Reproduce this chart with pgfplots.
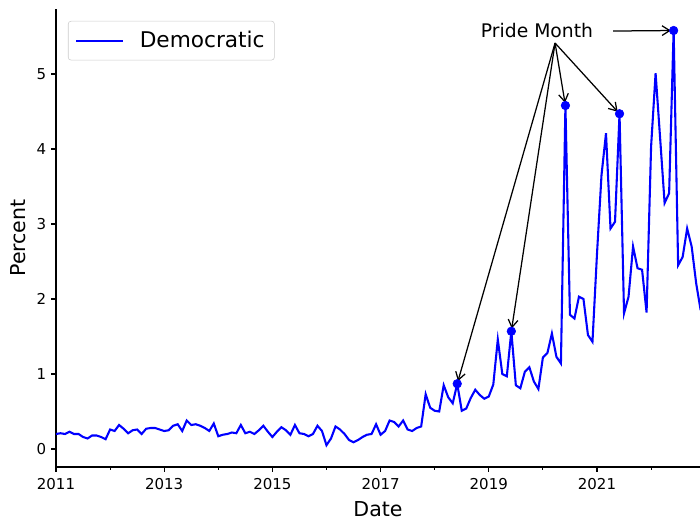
\documentclass[border=0pt]{standalone}
\usepackage{fontspec}
\setmainfont{DejaVu Sans}
\usepackage{pgfplots}
\pgfplotsset{compat=1.18}
\usetikzlibrary{arrows.meta}
\definecolor{mplblue}{RGB}{0,0,255}
\definecolor{legframe}{RGB}{204,204,204}

\begin{document}
\begin{tikzpicture}
\path[use as bounding box] (-40.32pt,-38.16pt) rectangle (463.68pt,336.24pt);
\begin{axis}[
  scale only axis, width=463.68pt, height=329.76pt,
  at={(0pt,0pt)}, anchor=south west,
  xmin=0, xmax=142.85, ymin=-0.24, ymax=5.867,
  axis x line*=bottom, axis y line*=left,
  axis line style={line width=0.8pt, black},
  tick align=outside,
  major tick length=3.5pt, minor tick length=2pt,
  every tick/.style={black, line width=0.8pt},
  xtick={0,24,48,72,96,120},
  xticklabels={2011,2013,2015,2017,2019,2021},
  minor xtick={12,36,60,84,108,132},
  ytick={0,1,2,3,4,5},
  /pgf/number format/assume math mode=true,
  ticklabel style={font=\fontsize{10.8}{13}\selectfont, inner sep=0pt},
  xticklabel style={yshift=-4.5pt},
  yticklabel style={xshift=-3.4pt},
  xlabel={Date}, ylabel={Percent},
  label style={font=\fontsize{14.8}{17}\selectfont, inner sep=0pt},
  xlabel style={at={(axis description cs:0.5,-0.10705)}, anchor=base},
  ylabel style={at={(axis description cs:-0.0481,0.5)}, rotate=0, anchor=base},
  legend style={at={(axis description cs:0.01855,0.9739)}, anchor=north west,
    draw=legframe, rounded corners=2pt, fill=white,
    inner xsep=5pt, inner ysep=5.3pt,
    font=\fontsize{15.6}{18}\selectfont, cells={anchor=west}},
  legend image code/.code={\draw[#1, line width=1.5pt] (-1.5pt,0pt) -- (32.5pt,0pt); \path (41.5pt,0pt);},
]
\addplot[mplblue, line width=1.5pt, no marks] table {
m v
0 0.20
1 0.21
2 0.20
3 0.23
4 0.20
5 0.20
6 0.16
7 0.14
8 0.18
9 0.18
10 0.16
11 0.13
12 0.26
13 0.24
14 0.32
15 0.27
16 0.21
17 0.25
18 0.26
19 0.20
20 0.27
21 0.28
22 0.28
23 0.26
24 0.24
25 0.25
26 0.31
27 0.33
28 0.24
29 0.38
30 0.32
31 0.33
32 0.31
33 0.28
34 0.24
35 0.34
36 0.17
37 0.19
38 0.20
39 0.22
40 0.21
41 0.32
42 0.21
43 0.23
44 0.20
45 0.25
46 0.31
47 0.23
48 0.16
49 0.23
50 0.29
51 0.25
52 0.19
53 0.32
54 0.21
55 0.20
56 0.17
57 0.20
58 0.31
59 0.24
60 0.05
61 0.14
62 0.30
63 0.26
64 0.20
65 0.12
66 0.09
67 0.12
68 0.16
69 0.19
70 0.20
71 0.33
72 0.19
73 0.24
74 0.38
75 0.36
76 0.30
77 0.38
78 0.26
79 0.24
80 0.28
81 0.30
82 0.73
83 0.55
84 0.51
85 0.50
86 0.85
87 0.69
88 0.61
89 0.87
90 0.51
91 0.54
92 0.68
93 0.79
94 0.72
95 0.67
96 0.70
97 0.86
98 1.46
99 1.00
100 0.97
101 1.57
102 0.85
103 0.81
104 1.03
105 1.09
106 0.90
107 0.80
108 1.22
109 1.28
110 1.54
111 1.23
112 1.14
113 4.58
114 1.79
115 1.74
116 2.03
117 2.00
118 1.52
119 1.43
120 2.60
121 3.65
122 4.21
123 2.94
124 3.03
125 4.47
126 1.81
127 2.03
128 2.70
129 2.41
130 2.39
131 1.82
132 4.03
133 5.01
134 4.15
135 3.28
136 3.41
137 5.58
138 2.45
139 2.56
140 2.94
141 2.70
142 2.21
143 1.85
};
\addlegendentry{Democratic}
\addplot[only marks, mark=*, mark size=3.1pt, mplblue, forget plot] coordinates {
(89,0.87) (101,1.57) (113,4.58) (125,4.47) (137,5.58)};
\node[font=\fontsize{13.5}{16}\selectfont, anchor=base, inner sep=0pt] at (axis cs:106.7,5.49) {Pride Month};
\begin{scope}[line width=0.9pt, -{Straight Barb[length=5.5pt,width=7pt]}, shorten >=2pt]
\draw (axis cs:110.7,5.413) -- (axis cs:89,0.87);
\draw (axis cs:110.7,5.413) -- (axis cs:101,1.57);
\draw (axis cs:110.7,5.413) -- (axis cs:113,4.58);
\draw (axis cs:110.7,5.413) -- (axis cs:125,4.47);
\draw (axis cs:123.6,5.573) -- (axis cs:137,5.58);
\end{scope}
\end{axis}
\end{tikzpicture}
\end{document}
